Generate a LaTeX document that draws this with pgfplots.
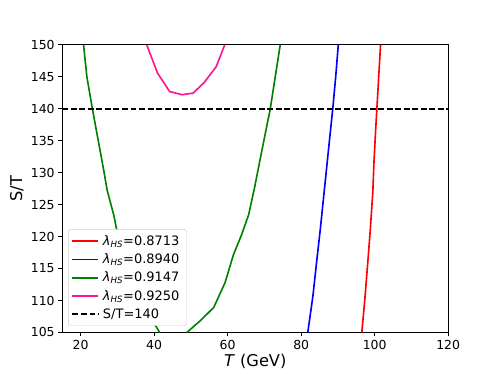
\documentclass[border=0pt]{standalone}
\usepackage{fontspec}
\setmainfont{DejaVu Sans}
\usepackage{pgfplots}
\pgfplotsset{compat=1.18}
\definecolor{mplgreen}{RGB}{0,128,0}
\definecolor{deeppink}{RGB}{255,20,147}
\begin{document}
\begin{tikzpicture}
\useasboundingbox (-57.6pt,-38pt) rectangle (403.2pt,307.6pt);
\begin{axis}[
  at={(0,0)}, anchor=south west,
  scale only axis, width=357.1pt, height=266.1pt,
  xmin=15, xmax=120, ymin=105, ymax=150,
  xtick={20,40,...,120}, ytick={105,110,...,150},
  tick align=outside, tick pos=left, major tick length=3.5pt,
  every tick/.style={black, line width=0.8pt},
  axis line style={line width=0.8pt},
  ticklabel style={font=\fontsize{11.5}{13}\selectfont},
  /pgf/number format/assume math mode=true,
  xlabel={\textit{T} (GeV)}, ylabel={S/T},
  label style={font=\fontsize{15}{18}\selectfont},
  xlabel style={yshift=2pt},
  legend cell align=left,
  legend style={at={(axis description cs:0,0)}, anchor=south west, xshift=5.5pt, yshift=6pt,
    draw=black!20, fill=white,
    rounded corners=2pt, row sep=4.3pt,
    nodes={font=\fontsize{12}{13}\selectfont, inner xsep=3.5pt, inner ysep=1pt},
    inner xsep=3pt, inner ysep=4.5pt},
  legend image code/.code={\draw[#1] (0pt,0pt) -- (24pt,0pt);},
  every axis plot/.append style={line width=1.5pt},
]
\addplot[color=red] coordinates {(96.5,105) (97.3,110) (98.2,116.5) (98.8,121) (99.5,127) (99.8,131.5) (100.2,136) (100.6,140) (101.1,145) (101.6,150)};
\addlegendentry{\textit{λ}\textsubscript{\textit{HS}}=0.8713}
\addplot[color=blue] coordinates {(81.8,105) (83.2,110.7) (84.2,116) (85.2,121.1) (86.6,128.9) (87.6,134.5) (88.6,140) (89.4,145) (90.1,150)};
\addlegendentry{\textit{λ}\textsubscript{\textit{HS}}=0.8940}
\addplot[color=mplgreen] coordinates {(20.8,150) (21.7,145) (23.2,140) (24.8,135) (26.4,130) (27.2,127.3) (29.0,123.4) (30.2,120) (32.6,115) (36.2,110) (41.5,105)};
\addlegendentry{\textit{λ}\textsubscript{\textit{HS}}=0.9147}
\addplot[color=mplgreen, forget plot] coordinates {(48.9,105) (52.5,106.8) (56.2,108.9) (59.3,112.8) (61.6,117.2) (63.8,120.3) (65.7,123.4) (67.3,127.6) (69.5,134.0) (71.6,140) (74.3,150)};
\addplot[color=deeppink] coordinates {(38.0,150) (40.9,145.6) (44.2,142.7) (47.6,142.2) (50.6,142.45) (53.6,144.1) (56.9,146.6) (59.2,150)};
\addlegendentry{\textit{λ}\textsubscript{\textit{HS}}=0.9250}
\addplot[color=black, dash pattern=on 5.5pt off 2.4pt] coordinates {(15,140) (120,140)};
\addlegendentry{S/T=140}
\end{axis}
\end{tikzpicture}
\end{document}
